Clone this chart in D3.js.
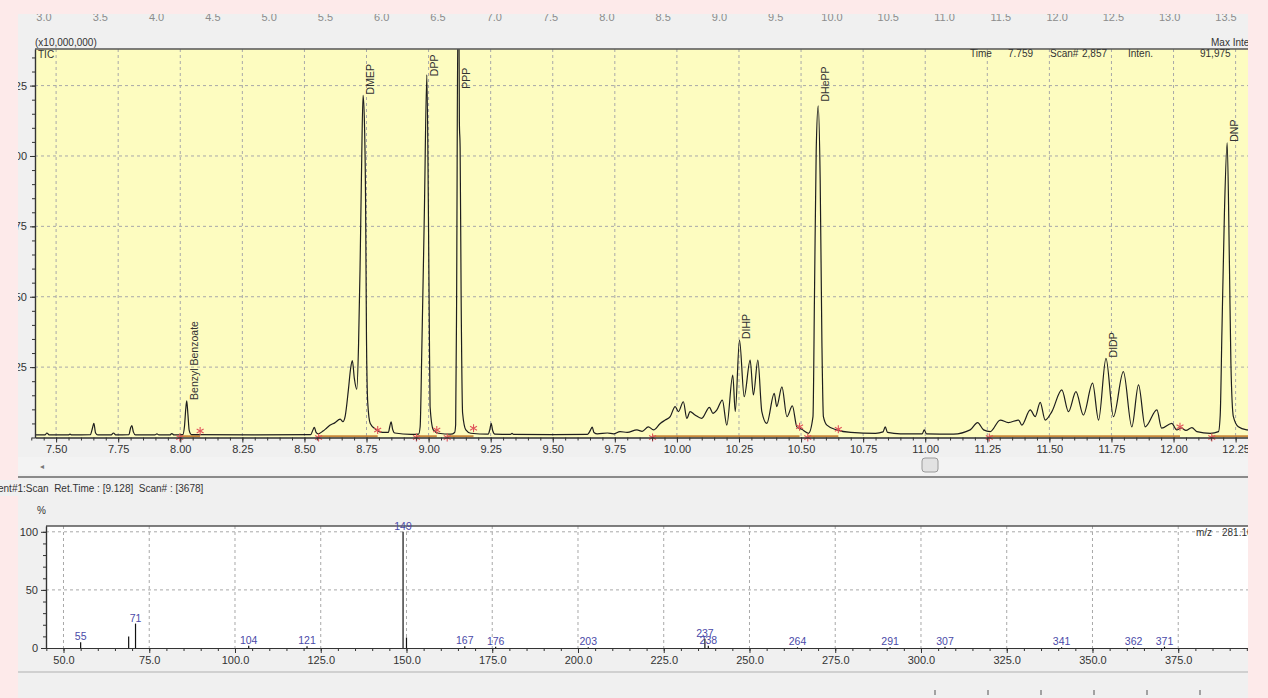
<!DOCTYPE html>
<html>
<head>
<meta charset="utf-8">
<script src="https://cdn.jsdelivr.net/npm/d3@7"></script>
<style>
  html, body { margin: 0; padding: 0; background: #fdeaea; }
  svg { display: block; }
  text { font-family: "Liberation Sans", Arial, sans-serif; }
</style>
</head>
<body>
<div id="canvas"></div>
<script>
"use strict"

/* TIC trace: [retention time (min), intensity (x10,000,000)] */
let ticTrace = [
    [7.415, 0.9], [7.455, 0.9], [7.463, 1.6], [7.472, 0.9],
    [7.550, 0.9], [7.556, 1.2], [7.562, 0.9],
    [7.638, 1.0], [7.646, 3.2], [7.652, 5.0], [7.659, 1.6], [7.668, 0.9],
    [7.722, 0.9], [7.731, 1.6], [7.740, 0.9],
    [7.793, 1.0], [7.800, 3.4], [7.805, 4.2], [7.811, 2.0], [7.820, 0.9],
    [7.898, 0.9], [7.906, 1.3], [7.914, 0.9],
    [7.958, 0.9], [7.966, 1.4], [7.975, 0.9],
    [8.010, 1.0], [8.017, 4.0], [8.022, 10.0], [8.026, 13.0], [8.031, 8.0], [8.036, 2.5], [8.045, 1.0],
    [8.300, 0.9],
    [8.525, 1.0], [8.533, 2.4], [8.540, 3.6], [8.547, 1.8], [8.556, 1.3],
    [8.575, 2.3], [8.590, 3.4], [8.604, 4.4], [8.622, 5.2], [8.644, 6.5], [8.655, 5.6], [8.664, 7.5],
    [8.677, 16.9], [8.686, 24.5], [8.693, 27.3], [8.701, 21.0], [8.711, 17.1],
    [8.718, 33.0], [8.724, 60.0], [8.730, 95.0], [8.736, 121.5], [8.741, 114.0], [8.746, 87.0],
    [8.750, 34.6], [8.755, 12.3], [8.765, 5.0], [8.790, 2.7], [8.815, 1.8],
    [8.838, 1.8], [8.844, 4.0], [8.849, 5.6], [8.855, 3.0], [8.864, 1.6],
    [8.930, 1.1], [8.960, 1.2], [8.966, 3.8], [8.973, 32.3], [8.983, 80.0], [8.993, 128.8],
    [8.999, 83.3], [9.003, 39.4], [9.006, 11.0], [9.019, 2.7], [9.040, 1.5],
    [9.090, 1.2], [9.105, 1.8], [9.109, 4.5], [9.113, 51.0], [9.118, 150.0], [9.122, 150.0],
    [9.124, 112.0], [9.127, 102.8], [9.131, 51.0], [9.137, 8.7], [9.150, 2.7], [9.170, 1.5],
    [9.240, 1.2], [9.247, 3.0], [9.252, 5.0], [9.258, 2.5], [9.267, 1.2],
    [9.330, 1.1], [9.336, 1.5], [9.342, 1.1],
    [9.500, 1.0], [9.640, 1.1], [9.652, 2.6], [9.659, 3.7], [9.666, 1.8], [9.680, 1.3],
    [9.720, 1.6], [9.745, 1.3], [9.771, 2.1], [9.800, 1.8], [9.839, 2.7], [9.860, 2.2],
    [9.885, 3.8], [9.906, 2.7], [9.933, 5.0], [9.953, 6.2], [9.973, 7.4], [9.993, 11.0],
    [10.006, 9.2], [10.026, 12.7], [10.040, 6.8], [10.053, 9.2], [10.073, 8.0], [10.100, 6.8],
    [10.131, 10.7], [10.145, 8.6], [10.161, 9.8], [10.183, 13.3], [10.201, 4.4], [10.225, 22.2],
    [10.235, 9.2], [10.252, 34.6], [10.271, 14.5], [10.295, 27.5], [10.308, 15.1], [10.326, 27.5],
    [10.342, 9.2], [10.362, 5.0], [10.392, 15.7], [10.402, 11.0], [10.423, 18.0], [10.443, 7.4],
    [10.465, 11.2], [10.483, 3.8], [10.503, 2.9], [10.530, 1.5],
    [10.548, 7.4], [10.554, 50.0], [10.561, 102.0], [10.569, 117.8], [10.577, 91.5], [10.584, 33.5],
    [10.590, 7.4], [10.604, 4.4], [10.644, 2.7], [10.700, 1.8], [10.800, 1.5],
    [10.830, 2.0], [10.839, 3.8], [10.848, 1.8], [10.900, 1.3],
    [10.988, 1.3], [10.996, 2.7], [11.005, 1.3], [11.114, 1.2],
    [11.181, 2.7], [11.211, 5.3], [11.235, 2.7], [11.262, 2.1], [11.302, 6.2], [11.335, 5.3],
    [11.376, 6.2], [11.389, 4.4], [11.423, 9.8], [11.443, 7.4], [11.463, 12.5], [11.483, 6.2],
    [11.510, 9.2], [11.550, 16.9], [11.577, 9.2], [11.607, 16.3], [11.637, 8.0], [11.674, 19.3],
    [11.698, 6.2], [11.728, 28.1], [11.758, 7.4], [11.798, 23.4], [11.832, 3.8], [11.859, 18.7],
    [11.886, 3.8], [11.933, 9.8], [11.952, 3.3], [11.993, 5.0], [12.013, 2.7], [12.031, 3.4],
    [12.050, 2.5], [12.074, 3.5], [12.094, 2.1], [12.148, 1.5], [12.181, 2.1], [12.188, 8.0],
    [12.195, 38.2], [12.205, 80.0], [12.216, 104.7], [12.225, 62.0], [12.231, 26.4], [12.241, 7.4],
    [12.261, 3.8], [12.295, 2.7], [12.320, 2.5]
];

/* peak annotations */
let peakNames = ["Benzyl Benzoate", "DMEP", "DPP", "PPP", "DIHP", "DHePP", "DIDP", "DNP"];
let peakTimes = [8.026, 8.736, 8.993, 9.123, 10.252, 10.569, 11.728, 12.216];
let peakLabelLevels = [13.0, 121.5, 128.0, 123.5, 34.6, 119.0, 28.1, 104.7];

/* integration baselines: start / end time and level at the end marker */
let baseStarts = [7.998, 8.557, 8.951, 9.075, 9.902, 10.527, 11.258, 12.154];
let baseEnds = [8.080, 8.795, 9.033, 9.181, 10.494, 10.650, 12.026, 12.400];
let baseEndLevels = [2.3, 2.7, 2.7, 3.3, 3.8, 2.9, 3.8, 1.0];

/* upper chart ticks */
let timeTicks = d3.range(30, 50).map(i => i / 4);           // 7.50 ... 12.25
let timeMinorTicks = d3.range(148, 247).map(i => i / 20);    // every 0.05
let ticTicks = [25, 50, 75, 100, 125];
let ticMinorTicks = d3.range(0, 28).map(i => i * 5);

/* overview strip labels at top */
let overviewTicks = d3.range(6, 28).map(i => i / 2);        // 3.0 ... 13.5

/* mass spectrum at 9.128 min */
let mzValues = [55, 69, 71, 104, 121, 149, 150, 167, 176, 203, 237, 238, 264, 291, 307, 341, 362, 371];
let mzIntensity = [5, 10, 21, 2, 1.5, 100, 9, 1.5, 1, 0.6, 8, 2, 0.6, 0.6, 1, 0.6, 0.6, 1.2];
let mzLabelled = [true, false, true, true, true, true, false, true, true, true, true, true, true, true, true, true, true, true];
let mzTicks = d3.range(2, 16).map(i => i * 25);              // 50 ... 375
let mzMinorTicks = d3.range(9, 80).map(i => i * 5);
let pctTicks = [0, 50, 100];
let pctMinorTicks = d3.range(0, 11).map(i => i * 10);

/* Configuration variables: drawing */
let svgWidth = 1268;
let svgHeight = 698;
let ink = "#333";
let gridColor = "#a8a8a8";

let svg = d3.select("#canvas")
    .append("svg")
    .attr("width", svgWidth)
    .attr("height", svgHeight);

/* window background */
svg.append("rect")
    .attr("width", svgWidth)
    .attr("height", svgHeight)
    .attr("fill", "#f0f0f0");

/* faded overview labels, top strip (half hidden by the page edge) */
let overviewX = d3.scaleLinear().domain([3, 13.5]).range([44, 1226]);
svg.append("g")
    .selectAll("text")
    .data(overviewTicks)
    .join("text")
    .attr("x", d => overviewX(d))
    .attr("y", 21)
    .attr("text-anchor", "middle")
    .attr("font-size", 11)
    .attr("fill", "#8c8c8c")
    .text(d => d3.format(".1f")(d));

/* ---------- upper chart: TIC ---------- */
let ticLeft = 35, ticRight = 1253, ticTop = 49, ticBottom = 437.5;

let x = d3.scaleLinear().domain([7.415, 12.32]).range([ticLeft, ticRight]);
let y = d3.scaleLinear().domain([0, 138]).range([ticBottom, ticTop]);

svg.append("rect")
    .attr("x", ticLeft)
    .attr("y", ticTop)
    .attr("width", ticRight - ticLeft)
    .attr("height", ticBottom - ticTop)
    .attr("fill", "#fdfcc0");

svg.append("clipPath")
    .attr("id", "ticClip")
    .append("rect")
    .attr("x", ticLeft)
    .attr("y", ticTop)
    .attr("width", ticRight - ticLeft)
    .attr("height", ticBottom - ticTop);

/* grid */
let ticGrid = svg.append("g")
    .attr("stroke", gridColor)
    .attr("stroke-dasharray", "3,3")
    .attr("stroke-width", 1);
ticGrid.selectAll(".vg")
    .data(timeTicks)
    .join("line")
    .attr("x1", d => x(d)).attr("x2", d => x(d))
    .attr("y1", ticTop).attr("y2", ticBottom);
ticGrid.selectAll(".hg")
    .data(ticTicks)
    .join("line")
    .attr("x1", ticLeft).attr("x2", ticRight)
    .attr("y1", d => y(d)).attr("y2", d => y(d));

/* integration baselines */
let baseG = svg.append("g").attr("clip-path", "url(#ticClip)");
baseG.selectAll("line")
    .data(baseStarts)
    .join("line")
    .attr("x1", d => x(d))
    .attr("y1", y(0.45))
    .attr("x2", (d, i) => x(baseEnds[i]))
    .attr("y2", y(0.45))
    .attr("stroke", "#c9883a")
    .attr("stroke-width", 2);

/* the trace */
let line = d3.line()
    .x(d => x(d[0]))
    .y(d => y(d[1]))
    .curve(d3.curveMonotoneX);

svg.append("path")
    .datum(ticTrace)
    .attr("clip-path", "url(#ticClip)")
    .attr("fill", "none")
    .attr("stroke", "#1e1e1e")
    .attr("stroke-width", 1.2)
    .attr("d", line);

/* peak start / end markers */
function star(g, cx, cy) {
    let r = 4;
    [0, 60, 120].forEach(function (a) {
        let rad = a * Math.PI / 180;
        g.append("line")
            .attr("x1", cx - r * Math.sin(rad)).attr("y1", cy - r * Math.cos(rad))
            .attr("x2", cx + r * Math.sin(rad)).attr("y2", cy + r * Math.cos(rad))
            .attr("stroke", "#e0555a")
            .attr("stroke-width", 1.1);
    });
}
let markG = svg.append("g");
baseStarts.forEach(function (d, i) {
    star(markG, x(d), y(0));
    if (x(baseEnds[i]) < 1248) star(markG, x(baseEnds[i]), y(baseEndLevels[i]));
});

/* peak labels */
svg.append("g")
    .selectAll("text")
    .data(peakNames)
    .join("text")
    .attr("transform", (d, i) => "translate(" + (x(peakTimes[i]) + 11) + "," + (y(peakLabelLevels[i]) - 1) + ") rotate(-90)")
    .attr("font-size", 10.5)
    .attr("fill", ink)
    .text(d => d);

/* axes */
svg.append("g")
    .attr("transform", "translate(0," + ticBottom + ")")
    .call(d3.axisBottom(x).tickValues(timeTicks).tickSize(5).tickSizeOuter(0).tickFormat(d3.format(".2f")));
svg.append("g")
    .attr("transform", "translate(0," + ticBottom + ")")
    .call(d3.axisBottom(x).tickValues(timeMinorTicks).tickSize(3).tickSizeOuter(0).tickFormat(""));

svg.append("g")
    .attr("transform", "translate(" + ticLeft + ",0)")
    .call(d3.axisLeft(y).tickValues(ticTicks).tickSize(5).tickSizeOuter(0));
svg.append("g")
    .attr("transform", "translate(" + ticLeft + ",0)")
    .call(d3.axisLeft(y).tickValues(ticMinorTicks).tickSize(3).tickSizeOuter(0).tickFormat(""));

/* frame top line */
svg.append("line")
    .attr("x1", ticLeft).attr("x2", ticRight)
    .attr("y1", ticTop).attr("y2", ticTop)
    .attr("stroke", "#555")
    .attr("stroke-width", 1.5);

/* header texts */
svg.append("text").attr("x", 35).attr("y", 46).attr("font-size", 10).attr("fill", ink).text("(x10,000,000)");
svg.append("text").attr("x", 38).attr("y", 58).attr("font-size", 10).attr("fill", ink).text("TIC");
svg.append("text").attr("x", 1211).attr("y", 46).attr("font-size", 10).attr("fill", ink).text("Max Intensity");
let headerItems = [["Time", 970], ["7.759", 1008], ["Scan#", 1050], ["2,857", 1082], ["Inten.", 1128], ["91,975", 1200]];
svg.append("g")
    .selectAll("text")
    .data(headerItems)
    .join("text")
    .attr("x", d => d[1])
    .attr("y", 57)
    .attr("font-size", 10)
    .attr("fill", ink)
    .text(d => d[0]);

/* scroll bar row */
svg.append("rect").attr("x", 0).attr("y", 457).attr("width", svgWidth).attr("height", 17).attr("fill", "#f3f3f3");
svg.append("text").attr("x", 40).attr("y", 469).attr("font-size", 8).attr("fill", "#777").text("\u25C2");
svg.append("rect")
    .attr("x", 922).attr("y", 458).attr("width", 16).attr("height", 14).attr("rx", 3)
    .attr("fill", "#e2e2e2").attr("stroke", "#9a9a9a");
svg.append("line")
    .attr("x1", 0).attr("x2", svgWidth).attr("y1", 477).attr("y2", 477)
    .attr("stroke", "#8a8a8a").attr("stroke-width", 2);
svg.append("text").attr("x", -2).attr("y", 492).attr("font-size", 10).attr("fill", ink)
    .attr("xml:space", "preserve")
    .text("ent#1:Scan  Ret.Time : [9.128]  Scan# : [3678]");

/* ---------- lower chart: mass spectrum ---------- */
let msLeft = 46, msRight = 1253, msTop = 526, msBottom = 648;
let mx = d3.scaleLinear().domain([44.9, 396.8]).range([msLeft, msRight]);
let my = d3.scaleLinear().domain([0, 105]).range([msBottom, msTop]);

svg.append("rect")
    .attr("x", msLeft).attr("y", msTop)
    .attr("width", msRight - msLeft).attr("height", msBottom - msTop)
    .attr("fill", "#ffffff");

let msGrid = svg.append("g")
    .attr("stroke", gridColor)
    .attr("stroke-dasharray", "3,3");
msGrid.selectAll(".vg")
    .data(mzTicks)
    .join("line")
    .attr("x1", d => mx(d)).attr("x2", d => mx(d))
    .attr("y1", msTop).attr("y2", msBottom);
msGrid.selectAll(".hg")
    .data([50, 100])
    .join("line")
    .attr("x1", msLeft).attr("x2", msRight)
    .attr("y1", d => my(d)).attr("y2", d => my(d));

/* frame top line, drawn before the labels so "149" sits on it */
svg.append("line")
    .attr("x1", msLeft).attr("x2", msRight)
    .attr("y1", msTop).attr("y2", msTop)
    .attr("stroke", "#555").attr("stroke-width", 1.5);

/* spectrum bars */
svg.append("g")
    .selectAll("line")
    .data(mzValues)
    .join("line")
    .attr("x1", d => mx(d)).attr("x2", d => mx(d))
    .attr("y1", my(0))
    .attr("y2", (d, i) => my(mzIntensity[i]))
    .attr("stroke", "#111")
    .attr("stroke-width", 1.2);

svg.append("g")
    .selectAll("text")
    .data(mzValues.filter((d, i) => mzLabelled[i]))
    .join("text")
    .attr("x", d => mx(d))
    .attr("y", d => my(mzIntensity[mzValues.indexOf(d)]) - 2)
    .attr("text-anchor", "middle")
    .attr("font-size", 10.5)
    .attr("fill", "#4a4aa8")
    .text(d => d);

svg.append("g")
    .attr("transform", "translate(0," + msBottom + ")")
    .call(d3.axisBottom(mx).tickValues(mzTicks).tickSize(5).tickSizeOuter(0).tickFormat(d3.format(".1f")));
svg.append("g")
    .attr("transform", "translate(0," + msBottom + ")")
    .call(d3.axisBottom(mx).tickValues(mzMinorTicks).tickSize(3).tickSizeOuter(0).tickFormat(""));
svg.append("g")
    .attr("transform", "translate(" + msLeft + ",0)")
    .call(d3.axisLeft(my).tickValues(pctTicks).tickSize(5).tickSizeOuter(0));
svg.append("g")
    .attr("transform", "translate(" + msLeft + ",0)")
    .call(d3.axisLeft(my).tickValues(pctMinorTicks).tickSize(3).tickSizeOuter(0).tickFormat(""));

svg.append("text").attr("x", 37).attr("y", 514).attr("font-size", 10).attr("fill", ink).text("%");
svg.append("text").attr("x", 1196).attr("y", 536).attr("font-size", 10).attr("fill", ink).text("m/z");
svg.append("text").attr("x", 1222).attr("y", 536).attr("font-size", 10).attr("fill", ink).text("281.10");

/* bottom separator and stray ticks */
svg.append("line")
    .attr("x1", 0).attr("x2", svgWidth).attr("y1", 672).attr("y2", 672)
    .attr("stroke", "#b0b0b0").attr("stroke-width", 1);
let bottomX = d3.scaleLinear().domain([0, 5]).range([935, 1200]);
svg.append("g")
    .selectAll("line")
    .data(d3.range(0, 6))
    .join("line")
    .attr("x1", d => bottomX(d)).attr("x2", d => bottomX(d))
    .attr("y1", 690).attr("y2", 695)
    .attr("stroke", "#555");

/* axis styling */
svg.selectAll(".tick text")
    .attr("font-size", 11)
    .attr("fill", ink)
    .attr("font-family", "Liberation Sans, Arial, sans-serif");
svg.selectAll(".tick line").attr("stroke", ink);
svg.selectAll(".domain").attr("stroke", "#333").attr("stroke-width", 1.2);

/* page margins outside the captured window */
svg.append("rect").attr("x", 0).attr("y", 0).attr("width", svgWidth).attr("height", 14).attr("fill", "#fdeaea");
svg.append("rect").attr("x", 0).attr("y", 0).attr("width", 18).attr("height", 480).attr("fill", "#fdeaea");
svg.append("rect").attr("x", 0).attr("y", 496).attr("width", 18).attr("height", svgHeight).attr("fill", "#fdeaea");
svg.append("rect").attr("x", 1248).attr("y", 0).attr("width", 20).attr("height", svgHeight).attr("fill", "#fdeaea");
</script>
</body>
</html>
